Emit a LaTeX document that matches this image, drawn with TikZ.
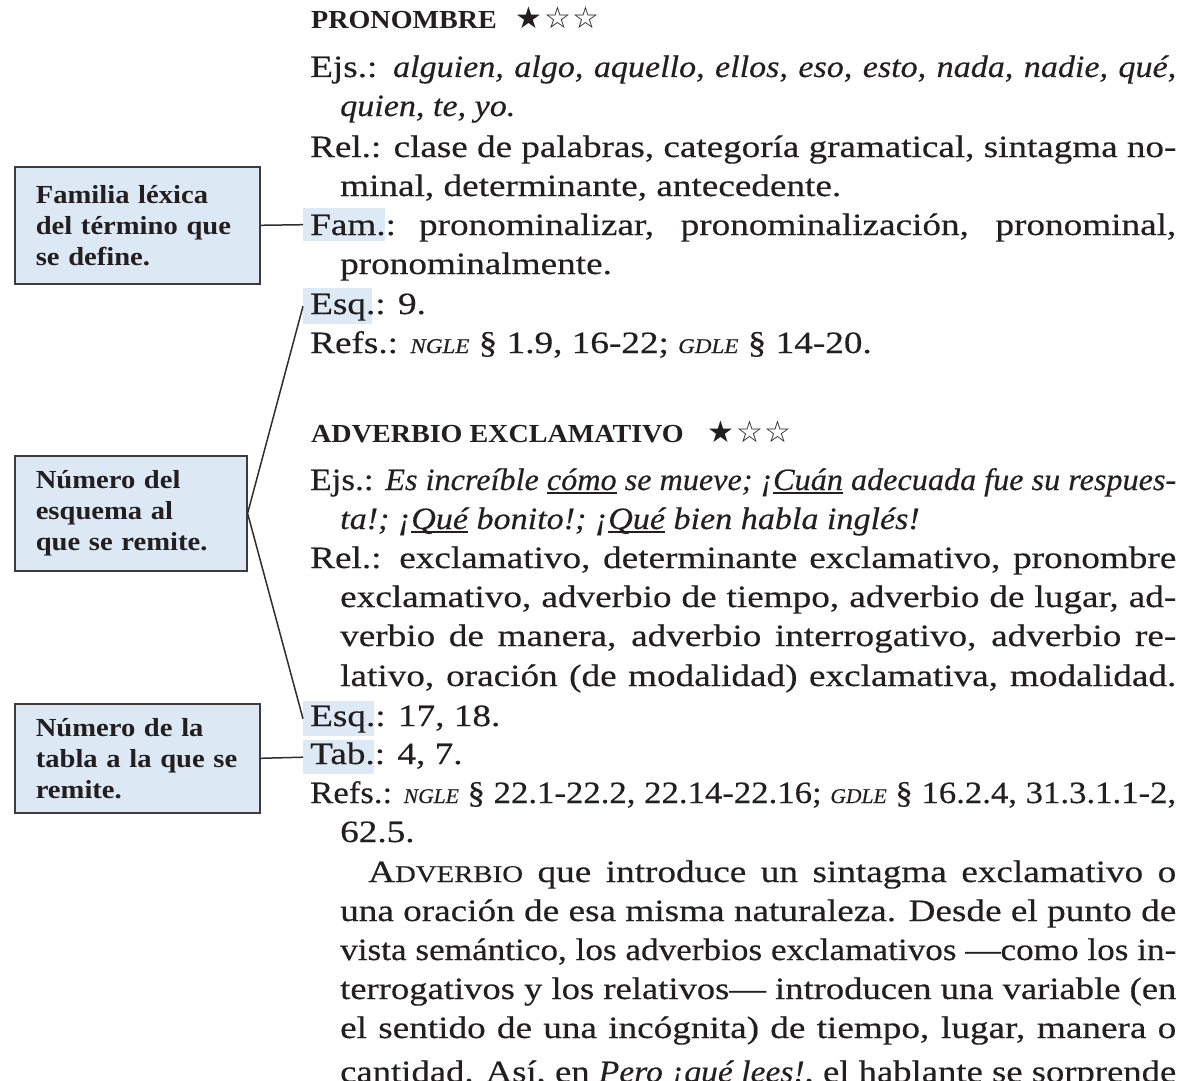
\documentclass[tikz,border=0pt]{standalone}
\usepackage{graphicx}
\usepackage{fontspec}
\setmainfont{Liberation Serif}[FakeStretch=1.2, FakeBold=0.4]
\newfontfamily\itf{Liberation Serif}[FakeStretch=1.1, FakeBold=0.4]
\newfontfamily\hdf{Liberation Serif}[FakeStretch=1.08]
\newfontfamily\bxf{Liberation Serif}[FakeStretch=1.1]
\newfontfamily\starf{DejaVu Sans}
\definecolor{ink}{HTML}{231F20}
\definecolor{boxblue}{HTML}{DCE8F4}
\definecolor{hlblue}{HTML}{DDEAF6}
\definecolor{boxline}{HTML}{3C3C3C}
\definecolor{linegray}{HTML}{2E2E2E}
\newsavebox\jlinebox
\newcommand\jline[2]{\sbox\jlinebox{#2}\ifdim\wd\jlinebox>#1\relax\resizebox{#1}{\height}{\usebox\jlinebox}\else\makebox[#1][s]{#2}\fi}
\newsavebox\ulwbox
\newcommand\ulw[1]{\sbox\ulwbox{#1}\rlap{\rule[-4pt]{\wd\ulwbox}{1.6pt}}\usebox\ulwbox}
\newcommand\scx[1]{{\itf\itshape\fontsize{21}{21}\selectfont #1}}
\tikzset{
  tl/.style={anchor=base west, inner sep=0pt, text=ink, font=\fontsize{31}{39}\selectfont},
  hd/.style={anchor=base west, inner sep=0pt, text=ink, font=\hdf\bfseries\fontsize{26}{30}\selectfont},
  starline/.style={anchor=base west, inner sep=0pt, text=ink, font=\starf\fontsize{30}{30}\selectfont},
  hl/.style={fill=hlblue, draw=none, inner sep=0pt, anchor=north west},
  lbox/.style={draw=boxline, line width=1.6pt, fill=boxblue, anchor=north west, inner xsep=21pt, inner ysep=0pt, align=left, text=ink, font=\bxf\bfseries\fontsize{26}{31}\selectfont},
  conn/.style={draw=linegray, line width=1.5pt},
}
\begin{document}
\begin{tikzpicture}[x=1pt, y=-1pt]
\useasboundingbox (0,0) rectangle (1184,1081);
\fill[white] (0,0) rectangle (1184,1081);
\clip (0,0) rectangle (1184,1081);
% highlights
\node[hl, minimum width=82pt, minimum height=33pt] (hlfam) at (303,208) {};
\node[hl, minimum width=69pt, minimum height=36pt] (hlesq1) at (303,288) {};
\node[hl, minimum width=71pt, minimum height=35pt] (hlesq2) at (303,701) {};
\node[hl, minimum width=71pt, minimum height=34pt] (hltab) at (303,740) {};
% entry 1
\node[hd] (h1) at (311,29) {PRONOMBRE};
\node[starline] (s1) at (515,29) {★\kern2pt☆\kern2pt☆};
\node[tl] (a1) at (310,77) {\jline{866pt}{Ejs.: {\itf\itshape alguien, algo, aquello, ellos, eso, esto, nada, nadie, qué,}}};
\node[tl] (a2) at (340,116) {{\itf\itshape quien, te, yo.}};
\node[tl] (a3) at (310,157) {\jline{866pt}{Rel.: clase de palabras, categoría gramatical, sintagma no-}};
\node[tl] (a4) at (340,196) {minal, determinante, antecedente.};
\node[tl] (a5) at (310,235) {\jline{866pt}{Fam.:\ pronominalizar, pronominalización, pronominal,}};
\node[tl] (a6) at (340,274) {pronominalmente.};
\node[tl] (a7) at (310,314) {Esq.: 9.};
\node[tl] (a8) at (310,353) {Refs.: \scx{NGLE} § 1.9, 16-22; \scx{GDLE} § 14-20.};
% entry 2
\node[hd] (h2) at (311,442) {ADVERBIO EXCLAMATIVO};
\node[starline] (s2) at (707,442) {★\kern2pt☆\kern2pt☆};
\node[tl] (b01) at (310,490) {\jline{866pt}{Ejs.: {\itf\itshape Es increíble \ulw{cómo} se mueve; ¡\ulw{Cuán} adecuada fue su respues-}}};
\node[tl] (b02) at (340,529) {{\itf\itshape ta!; ¡\ulw{Qué} bonito!; ¡\ulw{Qué} bien habla inglés!}};
\node[tl] (b03) at (310,568) {\jline{866pt}{Rel.: exclamativo, determinante exclamativo, pronombre}};
\node[tl] (b04) at (340,607) {\jline{836pt}{exclamativo, adverbio de tiempo, adverbio de lugar, ad-}};
\node[tl] (b05) at (340,646) {\jline{836pt}{verbio de manera, adverbio interrogativo, adverbio re-}};
\node[tl] (b06) at (340,686) {\jline{836pt}{lativo, oración (de modalidad) exclamativa, modalidad.}};
\node[tl] (b07) at (310,726) {Esq.: 17, 18.};
\node[tl] (b08) at (310,764) {Tab.: 4, 7.};
\node[tl] (b09) at (310,803) {\jline{866pt}{Refs.: \scx{NGLE} § 22.1-22.2, 22.14-22.16; \scx{GDLE} § 16.2.4, 31.3.1.1-2,}};
\node[tl] (b10) at (340,842) {62.5.};
\node[tl] (p1) at (368,882) {\jline{808pt}{A{\fontsize{24}{24}\selectfont DVERBIO} que introduce un sintagma exclamativo o}};
\node[tl] (p2) at (340,921) {\jline{836pt}{una oración de esa misma naturaleza. Desde el punto de}};
\node[tl] (p3) at (340,960) {\jline{836pt}{vista semántico, los adverbios exclamativos —como los in-}};
\node[tl] (p4) at (340,999) {\jline{836pt}{terrogativos y los relativos— introducen una variable (en}};
\node[tl] (p5) at (340,1038) {\jline{836pt}{el sentido de una incógnita) de tiempo, lugar, manera o}};
\node[tl] (p6) at (340,1082) {\jline{836pt}{cantidad. Así, en {\itf\itshape Pero ¡qué lees!}, el hablante se sorprende}};
% label boxes
\node[lbox, minimum width=245pt, minimum height=117pt, text width=203pt] (bx1) at (14,166) {\mbox{Familia léxica}\\\mbox{del término que}\\\mbox{se define.}};
\node[lbox, minimum width=232pt, minimum height=115pt, text width=190pt] (bx2) at (14,455) {\mbox{Número del}\\\mbox{esquema al}\\\mbox{que se remite.}};
\node[lbox, minimum width=245pt, minimum height=109pt, text width=203pt] (bx3) at (14,703) {\mbox{Número de la}\\\mbox{tabla a la que se}\\\mbox{remite.}};
% connectors
\draw[conn] (bx1.east) -- (hlfam.west);
\draw[conn] (hlesq1.west) -- (bx2.east) -- (hlesq2.west);
\draw[conn] (bx3.east) -- (hltab.west);
\end{tikzpicture}
\end{document}
